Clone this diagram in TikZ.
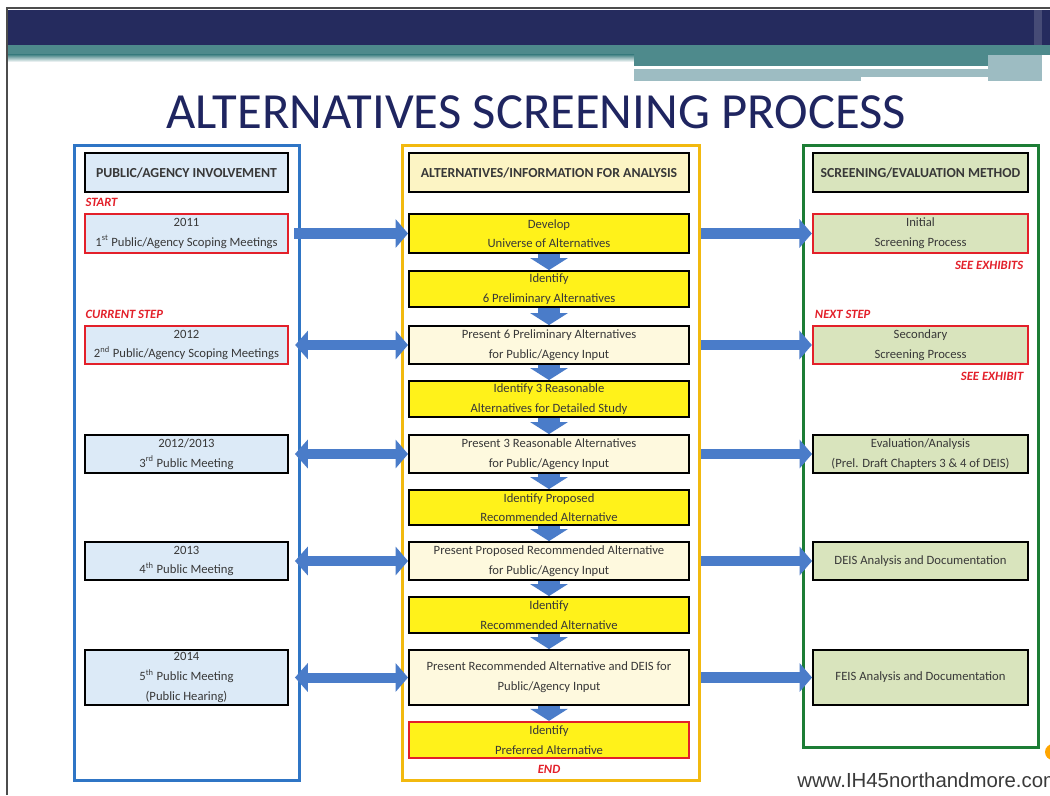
\documentclass[tikz,border=0pt]{standalone}
\usepackage{fontspec}
\setmainfont{Carlito}
\newfontfamily\urlfont{Liberation Sans}
\usetikzlibrary{arrows.meta}
\definecolor{navyband}{HTML}{252B5E}
\definecolor{tealband}{HTML}{4E8A8C}
\definecolor{greyband}{HTML}{9DBCC2}
\definecolor{titlenavy}{HTML}{1F2560}
\definecolor{frameblue}{HTML}{2F75C5}
\definecolor{frameyellow}{HTML}{F2B90F}
\definecolor{framegreen}{HTML}{1C7D35}
\definecolor{lfill}{HTML}{DCEAF7}
\definecolor{mhead}{HTML}{FCF4C4}
\definecolor{myellow}{HTML}{FFF21A}
\definecolor{mpale}{HTML}{FEF9DE}
\definecolor{rfill}{HTML}{D9E4BD}
\definecolor{markred}{HTML}{E3202A}
\definecolor{arrowblue}{HTML}{4A7CC9}
\definecolor{boxtext}{HTML}{383838}
\definecolor{urlgrey}{HTML}{3A3A3A}
\begin{document}
\begin{tikzpicture}[x=0.025cm,y=-0.025cm]
\tikzstyle{every node}+=[inner sep=0pt]
\tikzstyle{stagebox}=[draw=black, line width=1.3pt, align=center, text=boxtext, font=\fontsize{9}{14}\selectfont]
\tikzstyle{headbox}=[minimum height=0.975cm, font=\fontsize{9.8}{11}\selectfont\bfseries]
\tikzstyle{lbox}=[stagebox, fill=lfill, minimum width=5.075cm]
\tikzstyle{mbox}=[stagebox, fill=mpale, minimum width=7cm]
\tikzstyle{ybox}=[mbox, fill=myellow]
\tikzstyle{rbox}=[stagebox, fill=rfill, minimum width=5.375cm]
\tikzstyle{redline}=[draw=markred, line width=1.6pt]
\tikzstyle{redlbl}=[text=markred, font=\fontsize{9}{10}\selectfont\bfseries\itshape]
\tikzstyle{rarrow}=[draw=arrowblue, line width=0.27cm, -{Triangle[width=0.7cm,length=0.31cm]}]
\tikzstyle{darrow}=[draw=arrowblue, line width=0.25cm, {Triangle[width=0.7cm,length=0.32cm]}-{Triangle[width=0.7cm,length=0.31cm]}]
\tikzstyle{varrow}=[draw=arrowblue, line width=0.57cm, -{Triangle[width=0.93cm,length=0.3cm]}]
\useasboundingbox (0,0) rectangle (1050,795);
\clip (0,0) rectangle (1050,795);
\fill[white] (0,0) rectangle (1050,795);
\fill[navyband] (8,10) rectangle (1050,45);
\fill[navyband!85!white] (1034,10) rectangle (1042,45);
\fill[tealband] (8,45) rectangle (1050,55);
\shade[top color=tealband, bottom color=white] (8,55) rectangle (634,62);
\fill[tealband] (634,55) rectangle (1040,66);
\fill[greyband] (634,69) rectangle (861,81);
\fill[greyband] (861,69) rectangle (988,77);
\fill[greyband] (988,55) rectangle (1042,81);
\draw[gray!60!black, line width=0.8pt] (7,795) -- (7,8) -- (1050,8);
\node[text=titlenavy, font=\fontsize{36}{42}\selectfont] (title) at (536,112) {ALTERNATIVES SCREENING PROCESS};
\draw[frameblue, line width=0.075cm] (74,145) rectangle (299,780);
\draw[frameyellow, line width=0.075cm] (402,145) rectangle (699,780);
\draw[framegreen, line width=0.075cm] (803,145) rectangle (1038,747);
\node[lbox, headbox] (lhead) at (186.5,172.5) {PUBLIC/AGENCY INVOLVEMENT};
\node[mbox, headbox, fill=mhead] (mhead) at (549,172.5) {ALTERNATIVES/INFORMATION FOR ANALYSIS};
\node[rbox, headbox] (rhead) at (920.5,172.5) {SCREENING/EVALUATION METHOD};
\node[lbox, redline, minimum height=0.975cm] (l1) at (186.5,233.5) {2011\\1\textsuperscript{st} Public/Agency Scoping Meetings};
\node[lbox, redline, minimum height=0.95cm] (l2) at (186.5,345) {2012\\2\textsuperscript{nd} Public/Agency Scoping Meetings};
\node[lbox, minimum height=0.95cm] (l3) at (186.5,454) {2012/2013\\3\textsuperscript{rd} Public Meeting};
\node[lbox, minimum height=0.95cm] (l4) at (186.5,561) {2013\\4\textsuperscript{th} Public Meeting};
\node[lbox, minimum height=1.375cm] (l5) at (186.5,677.5) {2014\\5\textsuperscript{th} Public Meeting\\(Public Hearing)};
\node[ybox, minimum height=0.975cm] (m1) at (549,233.5) {Develop\\Universe of Alternatives};
\node[ybox, minimum height=0.9cm] (m2) at (549,289) {Identify\\6 Preliminary Alternatives};
\node[mbox, minimum height=0.95cm] (m3) at (549,345) {Present 6 Preliminary Alternatives\\for Public/Agency Input};
\node[ybox, minimum height=0.9cm] (m4) at (549,399) {Identify 3 Reasonable\\Alternatives for Detailed Study};
\node[mbox, minimum height=0.95cm] (m5) at (549,454) {Present 3 Reasonable Alternatives\\for Public/Agency Input};
\node[ybox, minimum height=0.875cm] (m6) at (549,507.5) {Identify Proposed\\Recommended Alternative};
\node[mbox, minimum height=0.95cm] (m7) at (549,561) {Present Proposed Recommended Alternative\\for Public/Agency Input};
\node[ybox, minimum height=0.9cm] (m8) at (549,615) {Identify\\Recommended Alternative};
\node[mbox, minimum height=1.375cm] (m9) at (549,677.5) {Present Recommended Alternative and DEIS for\\Public/Agency Input};
\node[ybox, redline, minimum height=0.9cm] (m10) at (549,740) {Identify\\Preferred Alternative};
\node[rbox, redline, minimum height=0.975cm] (r1) at (920.5,233.5) {Initial\\Screening Process};
\node[rbox, redline, minimum height=0.95cm] (r2) at (920.5,345) {Secondary\\Screening Process};
\node[rbox, minimum height=0.95cm] (r3) at (920.5,454) {Evaluation/Analysis\\(Prel. Draft Chapters 3 \& 4 of DEIS)};
\node[rbox, minimum height=0.95cm] (r4) at (920.5,561) {DEIS Analysis and Documentation};
\node[rbox, minimum height=1.375cm] (r5) at (920.5,677.5) {FEIS Analysis and Documentation};
\node[redlbl, anchor=south west] (start) at ([xshift=1pt,yshift=4pt]l1.north west) {START};
\node[redlbl, anchor=south west] (curstep) at ([xshift=1pt,yshift=4pt]l2.north west) {CURRENT STEP};
\node[redlbl, anchor=south west] (nextstep) at ([xshift=2pt,yshift=4pt]r2.north west) {NEXT STEP};
\node[redlbl, anchor=north east] (seeex1) at ([xshift=-4pt,yshift=-5pt]r1.south east) {SEE EXHIBITS};
\node[redlbl, anchor=north east] (seeex2) at ([xshift=-4pt,yshift=-5pt]r2.south east) {SEE EXHIBIT};
\node[redlbl, anchor=north] (endlbl) at ([yshift=-4pt]m10.south) {END};
\draw[rarrow, shorten <=0.13cm] (l1.east) -- (m1.west);
\draw[darrow, shorten <=0.15cm] (l2.east) -- (m3.west);
\draw[darrow, shorten <=0.15cm] (l3.east) -- (m5.west);
\draw[darrow, shorten <=0.15cm] (l4.east) -- (m7.west);
\draw[darrow, shorten <=0.15cm] (l5.east) -- (m9.west);
\draw[rarrow, shorten <=0.28cm] (m1.east) -- (r1.west);
\draw[rarrow, shorten <=0.28cm] (m3.east) -- (r2.west);
\draw[rarrow, shorten <=0.28cm] (m5.east) -- (r3.west);
\draw[rarrow, shorten <=0.28cm] (m7.east) -- (r4.west);
\draw[rarrow, shorten <=0.28cm] (m9.east) -- (r5.west);
\foreach \a/\b in {m1/m2,m2/m3,m3/m4,m4/m5,m5/m6,m6/m7,m7/m8,m8/m9,m9/m10}
  \draw[varrow] (\a.south) -- (\b.north);
\node[anchor=base west, text=urlgrey, font=\urlfont\fontsize{14.5}{16}\selectfont] (url) at (797,787) {www.IH45northandmore.com};
\fill[orange!70!yellow] (1053,752) circle (8);
\end{tikzpicture}
\end{document}
